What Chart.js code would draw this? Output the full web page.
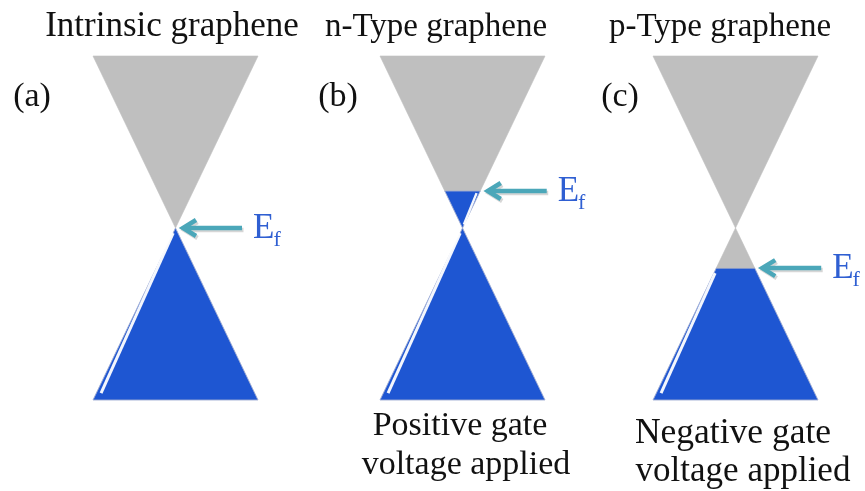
<!DOCTYPE html>
<html><head><meta charset="utf-8">
<script src="https://cdn.jsdelivr.net/npm/chart.js@4.4.1/dist/chart.umd.min.js"></script>
<style>html,body{margin:0;padding:0;background:#fff;overflow:hidden}#wrap{width:865px;height:491px;position:relative}</style>
</head><body><div id="wrap"><canvas id="c" width="865" height="491"></canvas></div>
<script>
// ---- data ----
const panelIds = ['(a)', '(b)', '(c)'];
const panelTitles = ['Intrinsic graphene', 'n-Type graphene', 'p-Type graphene'];
const fermiEnergy = [0, 0.215, -0.233];      // Fermi level relative to Dirac point (cone half-height = 1)
const bandExtent = [1, 1, 1];                // band energy range shown above / below the Dirac point
const gateNotes = [[], ['Positive gate', 'voltage applied'], ['Negative gate', 'voltage applied']];
const fermiSymbol = ['E', 'f'];

// ---- layout & style ----
const LAYOUT = {
  W: 865, H: 491,
  centers: [175.5, 462.5, 735.5],
  halfWidth: 82.5,
  diracY: 228, bandPx: 172,
  arrowGap: 7.5, arrowLen: 59,
  titles: [{x: 172, y: 36, f: 35}, {x: 436, y: 36, f: 33}, {x: 720, y: 36, f: 33}],
  ids: [{x: 32, y: 106}, {x: 338, y: 106}, {x: 620, y: 106}],
  notes: [[], [{x: 460, y: 435, f: 34}, {x: 466, y: 474, f: 34}], [{x: 733, y: 443, f: 35.5}, {x: 743, y: 481, f: 35}]],
  idFont: 34, efFont: 35, subFont: 22
};
const COLORS = {gray: '#BFBFBF', blue: '#1E56D2', edge: 'rgba(160,172,210,0.9)', arrow: '#4BA7B9',
  shadow: 'rgba(0,0,0,0.16)', ef: '#2F5FD2', text: '#111111', hl: 'rgba(255,255,255,0.95)'};
const SERIF = '"Liberation Serif", "Times New Roman", "DejaVu Serif", serif';

const yMax = LAYOUT.diracY / LAYOUT.bandPx;
const yMin = -(LAYOUT.H - LAYOUT.diracY) / LAYOUT.bandPx;
const pxE = 1 / LAYOUT.bandPx; // energy per pixel

function slice(ci, e0, e1) {
  const c = LAYOUT.centers[ci], w = LAYOUT.halfWidth;
  const a = Math.abs(e0) * w, b = Math.abs(e1) * w;
  return [{x: c - a, y: e0}, {x: c + a, y: e0}, {x: c + b, y: e1}, {x: c - b, y: e1}, {x: c - a, y: e0}];
}
function poly(data, color, edge) {
  return {data, showLine: true, fill: 'shape', backgroundColor: color,
    borderColor: edge || color, borderWidth: edge ? 1 : 0.6, pointRadius: 0, tension: 0};
}
function line(data, color, width) {
  return {data, showLine: true, fill: false, borderColor: color, borderWidth: width,
    pointRadius: 0, tension: 0, borderCapStyle: 'butt', borderJoinStyle: 'miter'};
}

const datasets = [];
const highlights = [];
const arrows = [];
panelIds.forEach((id, i) => {
  const ef = fermiEnergy[i], top = bandExtent[i];
  const c = LAYOUT.centers[i], w = LAYOUT.halfWidth;
  // upper (conduction) cone
  if (ef > 0) {
    datasets.push(poly(slice(i, 0, ef), COLORS.blue, COLORS.edge));
    datasets.push(poly(slice(i, ef, top), COLORS.gray));
    highlights.push(line([{x: c + (ef - 0.012) * w * 0.84, y: ef - 0.012}, {x: c + 0.02 * w * 0.84, y: 0.02}], COLORS.hl, 2.4));
  } else {
    datasets.push(poly(slice(i, 0, top), COLORS.gray));
  }
  // lower (valence) cone
  if (ef < 0) {
    datasets.push(poly(slice(i, ef, 0), COLORS.gray));
    datasets.push(poly(slice(i, -top, ef), COLORS.blue, COLORS.edge));
  } else {
    datasets.push(poly(slice(i, -top, 0), COLORS.blue, COLORS.edge));
  }
  const s = Math.min(ef, 0) - 0.03, e = -top + 0.04;
  highlights.push(line([{x: c - Math.abs(s) * w * 0.94, y: s}, {x: c - Math.abs(e) * w * 0.94, y: e}], COLORS.hl, 3));
  // Fermi level arrow
  const tip = c + Math.abs(ef) * w + LAYOUT.arrowGap;
  const tail = tip + LAYOUT.arrowLen;
  const ay = ef;
  const mk = (dx, dy) => ({
    shaft: [{x: tip + 3 + dx, y: ay - dy * pxE}, {x: tail + dx, y: ay - dy * pxE}],
    head: [{x: tip + 13 + dx, y: ay + 8 * pxE - dy * pxE}, {x: tip + dx, y: ay - dy * pxE}, {x: tip + 13 + dx, y: ay - 8 * pxE - dy * pxE}]
  });
  const sh = mk(1.5, 2), ar = mk(0, 0);
  arrows.push(line(ar.shaft, COLORS.arrow, 4.5), line(ar.head, COLORS.arrow, 4.5));
  arrows.push(line(sh.shaft, COLORS.shadow, 4.5), line(sh.head, COLORS.shadow, 4.5));
});
const allDatasets = [...arrows, ...highlights, ...datasets];

const textPlugin = {
  id: 'diagramText',
  afterDraw(chart) {
    const ctx = chart.ctx, xs = chart.scales.x, ys = chart.scales.y;
    ctx.save();
    ctx.fillStyle = COLORS.text;
    ctx.textBaseline = 'alphabetic';
    ctx.textAlign = 'center';
    panelTitles.forEach((t, i) => {
      ctx.font = LAYOUT.titles[i].f + 'px ' + SERIF;
      ctx.fillText(t, LAYOUT.titles[i].x, LAYOUT.titles[i].y);
    });
    ctx.font = LAYOUT.idFont + 'px ' + SERIF;
    panelIds.forEach((t, i) => ctx.fillText(t, LAYOUT.ids[i].x, LAYOUT.ids[i].y));
    gateNotes.forEach((lines, i) => lines.forEach((t, j) => {
      const p = LAYOUT.notes[i][j];
      ctx.font = p.f + 'px ' + SERIF;
      ctx.fillText(t, p.x, p.y);
    }));
    // Fermi labels
    ctx.textAlign = 'left';
    ctx.fillStyle = COLORS.ef;
    fermiEnergy.forEach((ef, i) => {
      const c = LAYOUT.centers[i];
      const tail = c + Math.abs(ef) * LAYOUT.halfWidth + LAYOUT.arrowGap + LAYOUT.arrowLen;
      const x = xs.getPixelForValue(tail) + 11;
      const y = ys.getPixelForValue(ef) + 10;
      ctx.font = LAYOUT.efFont + 'px ' + SERIF;
      ctx.fillText(fermiSymbol[0], x, y);
      const wE = ctx.measureText(fermiSymbol[0]).width;
      ctx.font = LAYOUT.subFont + 'px ' + SERIF;
      ctx.fillText(fermiSymbol[1], x + wE - 1, y + 8);
    });
    ctx.restore();
  }
};

new Chart(document.getElementById('c'), {
  type: 'scatter',
  data: {datasets: allDatasets},
  options: {
    responsive: false, animation: false, events: [],
    layout: {padding: 0},
    scales: {
      x: {type: 'linear', min: 0, max: LAYOUT.W, display: false},
      y: {type: 'linear', min: yMin, max: yMax, display: false}
    },
    plugins: {legend: {display: false}, tooltip: {enabled: false}, title: {display: false}}
  },
  plugins: [textPlugin]
});
</script></body></html>
